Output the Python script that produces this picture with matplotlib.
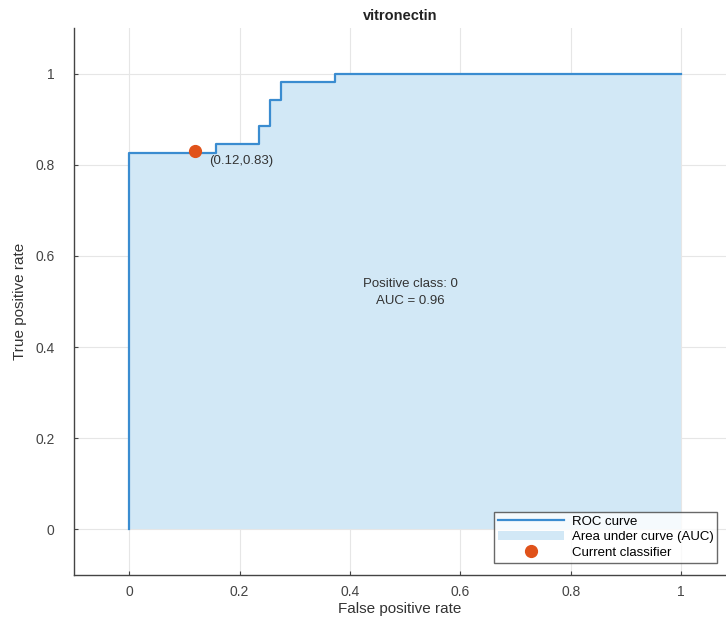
import matplotlib
matplotlib.use("Agg")
import matplotlib.pyplot as plt

# ROC step points (n_neg = 51, n_pos = 52)
fpr = [0, 0, 8 / 51, 12 / 51, 13 / 51, 14 / 51, 19 / 51, 1]
tpr = [0, 43 / 52, 44 / 52, 46 / 52, 49 / 52, 51 / 52, 1, 1]
current_point = (0.12, 0.83)
auc_value = 0.96
positive_class = 0
xticks = [0, 0.2, 0.4, 0.6, 0.8, 1]
yticks = [0, 0.2, 0.4, 0.6, 0.8, 1]

plt.rcParams["font.family"] = ["Liberation Sans", "DejaVu Sans"]

fig = plt.figure(figsize=(7.26, 6.23), dpi=100)
ax = fig.add_axes([0.102, 0.077, 0.898, 0.878])

line_col = "#3a8cd0"
fill_col = "#d2e8f6"
ax.fill_between(fpr, tpr, 0, step="post", color=fill_col, linewidth=0,
                label="Area under curve (AUC)", zorder=1)
ax.plot(fpr, tpr, drawstyle="steps-post", color=line_col, linewidth=1.6,
        label="ROC curve", zorder=3)
ax.plot(current_point[0], current_point[1], "o", color="#e0521a",
        markersize=8.5, label="Current classifier", zorder=4)
ax.text(current_point[0] + 0.025, current_point[1] - 0.022,
        "(%.2f,%.2f)" % current_point, fontsize=9.5, color="#333333",
        va="center", ha="left", zorder=5)
ax.text(0.51, 0.52, "Positive class: %d\nAUC = %.2f" % (positive_class, auc_value),
        fontsize=9.5, color="#333333", ha="center", va="center",
        linespacing=1.6, zorder=5)

ax.set_xlim(-0.1, 1.081)
ax.set_ylim(-0.1, 1.1)
ax.set_xticks(xticks)
ax.set_yticks(yticks)
ax.set_xticklabels(["%g" % t for t in xticks])
ax.set_yticklabels(["%g" % t for t in yticks])
ax.grid(True, color="#e6e6e6", linewidth=0.8)
ax.set_axisbelow(True)
for s in ["top", "right"]:
    ax.spines[s].set_visible(False)
for s in ["left", "bottom"]:
    ax.spines[s].set_color("#444444")
    ax.spines[s].set_linewidth(1.0)
ax.tick_params(axis="both", labelsize=10, colors="#444444", length=3,
               direction="in")
ax.tick_params(axis="x", pad=7)
ax.tick_params(axis="y", pad=14)

ax.set_xlabel("False positive rate", fontsize=11, color="#333333", labelpad=2)
ax.set_ylabel("True positive rate", fontsize=11, color="#333333", labelpad=6)
ax.set_title("vitronectin", fontsize=10.5, fontweight="bold", color="#222222",
             pad=6)

handles, labels = ax.get_legend_handles_labels()
order = [labels.index("ROC curve"), labels.index("Area under curve (AUC)"),
         labels.index("Current classifier")]
leg = ax.legend([handles[i] for i in order], [labels[i] for i in order],
                loc="lower right", bbox_to_anchor=(0.997, 0.01), fontsize=9.5,
                frameon=True, fancybox=False, edgecolor="#444444",
                borderpad=0.3, labelspacing=0.25, handlelength=5,
                handletextpad=0.6)
leg.get_frame().set_linewidth(1.0)

fig.savefig("out.png", dpi=100)
